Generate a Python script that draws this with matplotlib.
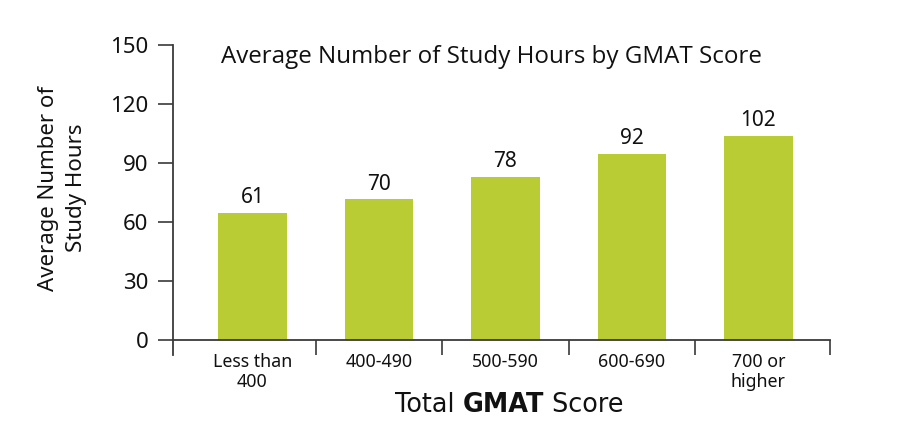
import numpy as np
import matplotlib
matplotlib.use("Agg")
import matplotlib.pyplot as plt

# data
categories = ["Less than\n400", "400-490", "500-590", "600-690", "700 or\nhigher"]
bar_heights = [64.7, 71.5, 83.0, 94.6, 103.7]   # drawn height of each bar
value_labels = ["61", "70", "78", "92", "102"]    # printed label above each bar
y_ticks = [0, 30, 60, 90, 120, 150]

title = "Average Number of Study Hours by GMAT Score"
y_label = "Average Number of\nStudy Hours"

bar_color = "#b9cc34"
axis_color = "#3a3a3a"
text_color = "#111111"
num_font = "Noto Sans"
xlab_font = "DejaVu Sans"

fig = plt.figure(figsize=(9.18, 4.48), dpi=100)
ax = fig.add_axes([0.1888, 0.2076, 0.7154, 0.692])

x = np.arange(len(categories))
ax.bar(x, bar_heights, width=0.543, color=bar_color, zorder=2)

# labels above the bars
for xi, h, lab in zip(x, bar_heights, value_labels):
    ax.annotate(lab, (xi, h), xytext=(0, 7), textcoords="offset points",
                ha="center", va="baseline", fontsize=15, family=num_font,
                color=text_color)

x_end = 4.567
ax.set_xlim(-0.626, x_end)
ax.set_ylim(-7.6, 150)

for s in ["top", "right"]:
    ax.spines[s].set_visible(False)
ax.spines["bottom"].set_position(("data", 0))
for s in ["left", "bottom"]:
    ax.spines[s].set_color(axis_color)
    ax.spines[s].set_linewidth(1.3)

ax.set_yticks(y_ticks)
ax.set_yticklabels([str(v) for v in y_ticks], fontsize=16, family=num_font,
                   color=text_color)
ax.tick_params(axis="y", direction="out", length=10.8, width=1.2,
               color=axis_color, pad=7)

ax.set_xticks(x)
ax.set_xticklabels(categories, fontsize=12.8, family=num_font,
                   color=text_color, linespacing=1.15)
ax.tick_params(axis="x", which="major", length=0, pad=9)
ax.set_xticks([0.5, 1.5, 2.5, 3.5, x_end], minor=True)
ax.tick_params(axis="x", which="minor", direction="out", length=10.8,
               width=1.2, color=axis_color)

fig.text(0.535, 0.8587, title, ha="center", va="baseline", fontsize=17.4,
         family="Open Sans", color=text_color)

fig.text(0.068, 0.58, y_label, rotation=90, ha="center", va="center",
         multialignment="center", fontsize=16, family=num_font,
         color=text_color, linespacing=1.45)

# x axis title with bold middle word
t1 = fig.text(0.4303, 0.081, "Total ", ha="left", va="baseline",
              fontsize=18.4, family=xlab_font, color=text_color)
a2 = fig.add_artist(plt.Annotation("GMAT", xy=(1, 0), xycoords=t1,
                                   va="bottom", ha="left", fontsize=18.4,
                                   family=xlab_font, fontweight="bold",
                                   color=text_color))
a3 = fig.add_artist(plt.Annotation(" Score", xy=(1, 0), xycoords=a2,
                                   va="bottom", ha="left", fontsize=18.4,
                                   family=xlab_font, color=text_color))

fig.savefig("out.png", dpi=100, facecolor="white")
